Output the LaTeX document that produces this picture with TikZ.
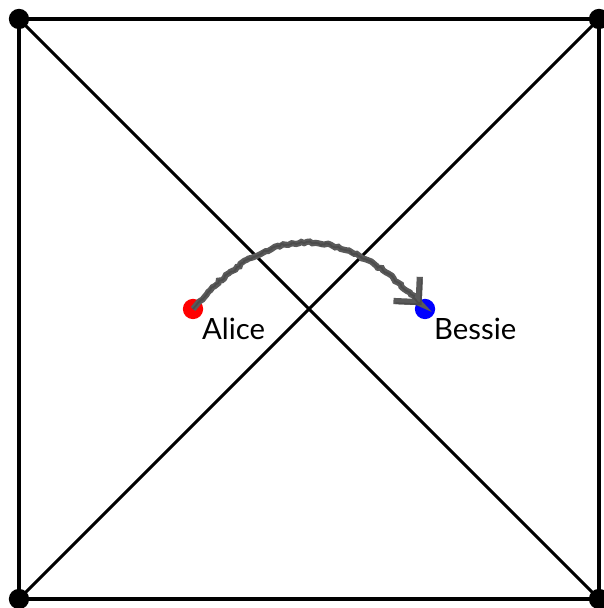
\documentclass[tikz,border=0pt]{standalone}
\usepackage{fontspec}
\setmainfont{Lato}
\usepackage{tikz}
\usetikzlibrary{arrows.meta,positioning,decorations.pathmorphing}
\definecolor{alicered}{HTML}{FF0000}
\definecolor{bessieblue}{HTML}{0000FF}
\definecolor{pencil}{HTML}{5A5A5A}

\tikzset{
  edge/.style={very thick,line join=round},
  corner/.style={circle,fill=black,inner sep=0pt,minimum size=0.28cm},
  cow/.style={circle,inner sep=0pt,minimum size=0.28cm},
  name label/.style={font=\fontsize{11.5}{13}\selectfont,inner sep=0.12cm},
  sketchy/.style={draw=pencil,line width=2.4pt,decorate,
    decoration={random steps,segment length=1.2pt,amplitude=0.45pt,pre length=2pt,post length=3pt},
    postaction={draw=black!70,line width=0.7pt,decorate,
      decoration={random steps,segment length=0.9pt,amplitude=0.6pt,pre length=2pt,post length=3pt}}}
}

\begin{document}
\begin{tikzpicture}
  \useasboundingbox (-0.262,-0.124) rectangle (8.055,8.262);

  % Square with both diagonals
  \coordinate (sw) at (0,0);
  \coordinate (se) at (8,0);
  \coordinate (ne) at (8,8);
  \coordinate (nw) at (0,8);
  \draw[edge] (sw) -- (se) -- (ne) -- (nw) -- cycle;
  \draw[edge] (sw) -- (ne);
  \draw[edge] (nw) -- (se);
  \foreach \c in {sw,se,ne,nw}
    \node[corner] at (\c) {};

  % The two players
  \node[cow,fill=alicered] (alice) at (2.4,4) {};
  \node[cow,fill=bessieblue] (bessie) at (5.6,4) {};
  \node[name label,below right=0pt of alice.center] (alicetext) {Alice};
  \node[name label,below right=0pt of bessie.center] (bessietext) {Bessie};

  % Move
  \draw[sketchy,shorten >=0.07cm,-{Straight Barb[length=7pt,width=14pt]}]
    (alice.center) to[out=50,in=132,looseness=1.3] (bessie.center);
\end{tikzpicture}
\end{document}
